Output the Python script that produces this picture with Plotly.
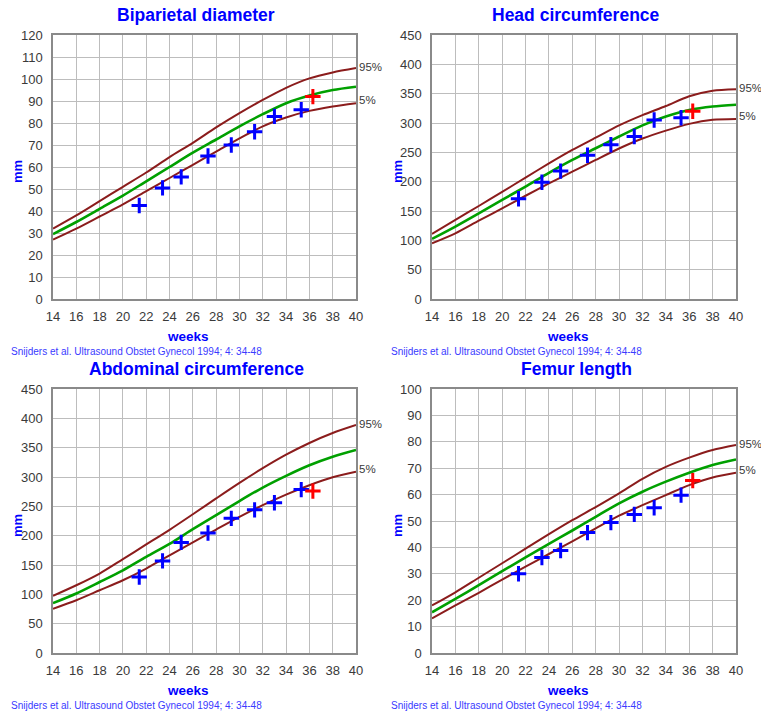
import plotly.graph_objects as go

W, H = 761, 711

# ---------------- data ----------------
curve_weeks = [14, 16, 18, 20, 22, 24, 26, 28, 30, 32, 34, 36, 38, 40]

bpd_p95 = [32, 38, 44.5, 51, 57.5, 64.5, 71, 78, 84.5, 90.5, 96, 100.3, 103, 105]
bpd_p50 = [29.5, 35, 41, 47, 53.5, 60, 66.5, 72.5, 78.5, 84, 89, 92.5, 95, 96.5]
bpd_p5 = [27, 32, 37.5, 43, 49, 55, 61, 67, 73, 78.5, 82.5, 85.5, 87.5, 89]

hc_p95 = [111, 135, 158.5, 182.5, 207, 231, 254, 275, 296, 313.5, 329, 345.5, 355, 357.5]
hc_p50 = [102.5, 123.5, 146, 169, 191.5, 215, 237, 257, 277, 296, 311, 322, 328, 331]
hc_p5 = [95, 112, 133.5, 154.5, 176, 197, 217, 237, 256.5, 273.5, 287, 298.5, 305.5, 307]

ac_p95 = [97.5, 115.5, 135.5, 160, 185, 210, 236.5, 263.5, 290, 315, 338, 358, 375, 388.6]
ac_p50 = [85, 101.5, 121, 141, 164, 186, 211, 235, 259, 282, 302, 320, 334.6, 346]
ac_p5 = [75.5, 90, 107, 124, 144, 166.5, 188.5, 210.5, 232, 252, 270, 286, 299.5, 309]

fl_p95 = [18, 23, 28.5, 34, 39.5, 45, 50.3, 55.3, 60.5, 66, 70.5, 74, 76.9, 78.8]
fl_p50 = [15.4, 20.5, 25.7, 31, 36.2, 41.3, 46.4, 51.6, 56.7, 61.1, 64.9, 68.3, 71.2, 73.3]
fl_p5 = [13.1, 18, 22.8, 27.8, 32.7, 37.5, 42.3, 47.2, 52, 56, 59.8, 63.6, 66.5, 68.3]

obs_weeks = [21.4, 23.4, 25.0, 27.3, 29.3, 31.3, 33.0, 35.3]
bpd_obs = [42.5, 50.5, 55.5, 65, 70, 76, 83, 86]
hc_obs = [171, 199, 218, 245, 263, 277, 305, 309]
ac_obs = [129.5, 157, 188.5, 204.5, 229.5, 244, 256, 278.5]
fl_obs = [30, 36.2, 38.8, 45.6, 49.4, 52.5, 55, 59.8]

last_week = 36.3
bpd_last = 92
hc_last = 320
ac_last = 276
fl_last = 65.3

titles = ["Biparietal diameter", "Head circumference", "Abdominal circumference", "Femur length"]
y_max = [120, 450, 450, 100]
y_step = [10, 50, 50, 10]
citation = "Snijders et al. Ultrasound Obstet Gynecol 1994; 4: 34-48"
x_ticks = list(range(14, 41, 2))

panels = [
    (bpd_p95, bpd_p50, bpd_p5, bpd_obs, bpd_last),
    (hc_p95, hc_p50, hc_p5, hc_obs, hc_last),
    (ac_p95, ac_p50, ac_p5, ac_obs, ac_last),
    (fl_p95, fl_p50, fl_p5, fl_obs, fl_last),
]

# ---------------- layout geometry (window pixels) ----------------
# plot boxes: (left, right, top, bottom)
boxes = [(53, 356, 35, 299), (432, 736, 35, 299), (53, 356, 389, 653), (432, 736, 389, 653)]
panel_left = [0, 380, 0, 380]


def px(x):
    return x / W


def py(y):
    return 1 - y / H


FONT = "Arial, Liberation Sans, sans-serif"
BLUE = "#0000ff"
RED_CURVE = "#8b1c1c"
GREEN = "#00a000"
TEXT = "#3a3a3a"

fig = go.Figure()
annotations = []
layout_axes = {}

for i, (p95, p50, p5, obs, last) in enumerate(panels):
    n = "" if i == 0 else str(i + 1)
    xa, ya = "x" + n, "y" + n
    l, r, t, b = boxes[i]

    for vals, col, wd in ((p95, RED_CURVE, 2), (p5, RED_CURVE, 2), (p50, GREEN, 2.6)):
        fig.add_trace(go.Scatter(
            x=curve_weeks, y=vals, mode="lines", xaxis=xa, yaxis=ya,
            line=dict(color=col, width=wd, shape="spline", smoothing=0.8),
            showlegend=False, hoverinfo="skip"))

    fig.add_trace(go.Scatter(
        x=obs_weeks, y=obs, mode="markers", xaxis=xa, yaxis=ya,
        marker=dict(symbol="cross-thin", size=11, line=dict(width=3, color=BLUE)),
        showlegend=False))
    fig.add_trace(go.Scatter(
        x=[last_week], y=[last], mode="markers", xaxis=xa, yaxis=ya,
        marker=dict(symbol="cross-thin", size=11, line=dict(width=3, color="#ff0000")),
        showlegend=False))

    axis_common = dict(showline=True, mirror=True, linecolor="#8a8a8a", linewidth=1.5,
                       showgrid=True, gridcolor="#bdbdbd", gridwidth=1, zeroline=False,
                       ticks="", tickfont=dict(family=FONT, size=13, color=TEXT),
                       fixedrange=True, automargin=False)
    layout_axes["xaxis" + n] = dict(axis_common, domain=[px(l), px(r)], range=[14, 40],
                                    tickvals=x_ticks, anchor=ya, ticklabelstandoff=5)
    layout_axes["yaxis" + n] = dict(axis_common, domain=[py(b), py(t)], range=[0, y_max[i]],
                                    dtick=y_step[i], tick0=0, anchor=xa, ticklabelstandoff=6)

    pl = panel_left[i]
    annotations.append(dict(text="<b>%s</b>" % titles[i], x=px(pl + 196), y=py(t - 20),
                            xref="paper", yref="paper", showarrow=False,
                            xanchor="center", yanchor="middle",
                            font=dict(family=FONT, size=17.5, color=BLUE)))
    annotations.append(dict(text="<b>mm</b>", x=px(pl + 17), y=py((t + b) / 2 + 5),
                            xref="paper", yref="paper", showarrow=False, textangle=-90,
                            xanchor="center", yanchor="middle",
                            font=dict(family=FONT, size=13, color=BLUE)))
    annotations.append(dict(text="<b>weeks</b>", x=px(pl + 188), y=py(b + 37),
                            xref="paper", yref="paper", showarrow=False,
                            xanchor="center", yanchor="middle",
                            font=dict(family=FONT, size=13.5, color=BLUE)))
    annotations.append(dict(text=citation, x=px(pl + 9), y=py(b + 52),
                            xref="paper", yref="paper", showarrow=False,
                            xanchor="left", yanchor="middle",
                            font=dict(family=FONT, size=10, color="#3a3aff")))
    annotations.append(dict(text="95%", x=40, y=p95[-1], xref=xa, yref=ya, showarrow=False,
                            xanchor="left", yanchor="middle", xshift=1, yshift=1,
                            font=dict(family=FONT, size=11.5, color=TEXT)))
    annotations.append(dict(text="5%", x=40, y=p5[-1], xref=xa, yref=ya, showarrow=False,
                            xanchor="left", yanchor="middle", xshift=1, yshift=3,
                            font=dict(family=FONT, size=11.5, color=TEXT)))

fig.update_layout(
    width=W, height=H, margin=dict(l=0, r=0, t=0, b=0),
    paper_bgcolor="white", plot_bgcolor="white",
    annotations=annotations, showlegend=False,
    **layout_axes)

# remove the page's default body margin so the figure fills the window exactly
fig.write_html("out.html",
               config={"displayModeBar": False},
               post_script="document.body.style.margin='0';document.body.style.overflow='hidden';")
